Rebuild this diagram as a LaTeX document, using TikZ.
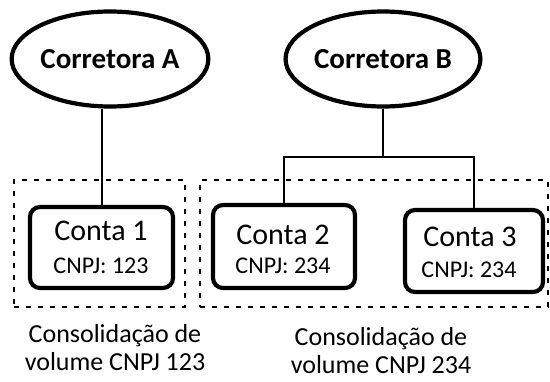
\documentclass[tikz,border=0pt]{standalone}
\usepackage{fontspec}
\setmainfont{Carlito}
\usetikzlibrary{shapes.geometric}
\begin{document}
\begin{tikzpicture}[x=1pt,y=-1pt,
  broker/.style={ellipse,draw,line width=4.2pt,minimum width=183pt,minimum height=95pt,inner sep=0pt,font=\fontsize{29}{33}\selectfont\bfseries},
  account/.style={draw,line width=4.2pt,rounded corners=10pt,inner sep=0pt},
  group/.style={draw,line width=1.3pt,dash pattern=on 5pt off 7pt},
  link/.style={line width=2pt},
  big/.style={font=\fontsize{30}{34}\selectfont},
  small/.style={font=\fontsize{24}{28}\selectfont},
  caption/.style={font=\fontsize{26}{28}\selectfont,align=center}]
\useasboundingbox (0,0) rectangle (550,381);
\node[broker] (A) at (110,59) {Corretora A};
\node[broker] (B) at (383,59) {Corretora B};
\node[group,minimum width=171pt,minimum height=127pt] (GA) at (99.5,243.5) {};
\node[group,minimum width=348pt,minimum height=127pt] (GB) at (374,243.5) {};
\node[account,minimum width=143pt,minimum height=81pt] (C1) at (101.5,247.5) {};
\node[account,minimum width=142pt,minimum height=83pt] (C2) at (284,246.5) {};
\node[account,minimum width=138pt,minimum height=82pt] (C3) at (474,251) {};
\node[big] (t1) at (101,231) {Conta 1};
\node[small] (n1) at (101,266) {CNPJ: 123};
\node[big] (t2) at (283,235) {Conta 2};
\node[small] (n2) at (283,266) {CNPJ: 234};
\node[big] (t3) at (470,237) {Conta 3};
\node[small] (n3) at (469,270) {CNPJ: 234};
\node[caption] (capA) at (115,348) {Consolidação de\\volume CNPJ 123};
\node[caption] (capB) at (381,351) {Consolidação de\\volume CNPJ 234};
\coordinate (j) at (383,157);
\draw[link] (C1.north |- A.south) -- (C1.north);
\draw[link] (B.south) -- (j);
\draw[link] (C2.north) |- (j) -| (C3.north);
\end{tikzpicture}
\end{document}
